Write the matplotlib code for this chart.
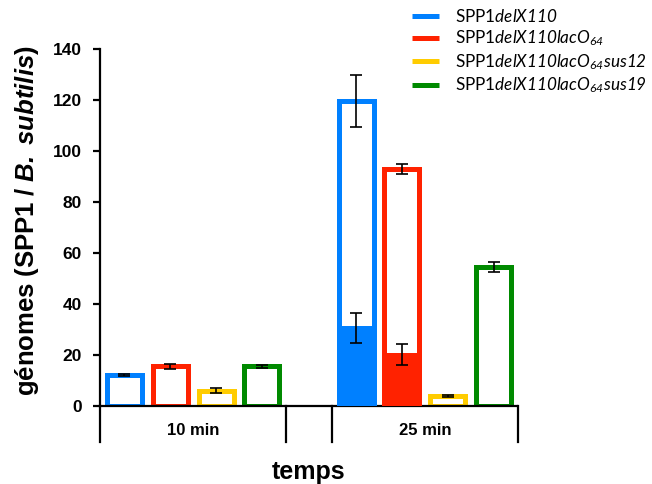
import matplotlib
matplotlib.use("Agg")
import matplotlib.pyplot as plt
from matplotlib.lines import Line2D
import numpy as np

plt.rcParams['mathtext.fontset'] = 'custom'
plt.rcParams['mathtext.rm'] = 'Lato'
plt.rcParams['mathtext.it'] = 'Lato:italic'
plt.rcParams['mathtext.sf'] = 'Lato:italic'
plt.rcParams['mathtext.bf'] = 'Liberation Sans:bold'
plt.rcParams['mathtext.bfit'] = 'Liberation Sans:italic:bold'

# ---- data ----
categories = ["10 min", "25 min"]
series_labels = [r"SPP1$\mathsf{delX110}$",
                 r"SPP1$\mathsf{delX110lacO_{64}}$",
                 r"SPP1$\mathsf{delX110lacO_{64}sus12}$",
                 r"SPP1$\mathsf{delX110lacO_{64}sus19}$"]
colors = ["#0080FF", "#FF2200", "#FFCC00", "#008A00"]
# total values [series][category]
totals = [[12.1, 119.6], [15.6, 92.9], [6.0, 3.9], [15.6, 54.6]]
totals_err = [[0.5, 10.2], [1.0, 2.0], [0.9, 0.5], [0.6, 2.0]]
# filled (lower) portion values
filled = [[0, 30.6], [0, 20.1], [0, 0], [0, 0]]
filled_err = [[0, 5.7], [0, 4.1], [0, 0], [0, 0]]
yticks = [0, 20, 40, 60, 80, 100, 120, 140]

# ---- layout ----
W, H = 652, 484
fig = plt.figure(figsize=(W / 100, H / 100), dpi=100)
ax = fig.add_axes([100 / W, 78 / H, 417 / W, 357 / H])

group_width = 186
group_step = 232
bar_first = 24
bar_step = 46
bar_w = 35
lw = 3.6

for gi, cat in enumerate(categories):
    start = gi * group_step
    for si in range(len(series_labels)):
        x = start + bar_first + si * bar_step
        ax.bar(x, totals[si][gi], width=bar_w, facecolor="white",
               edgecolor=colors[si], linewidth=lw, zorder=2)
        if filled[si][gi] > 0:
            ax.bar(x, filled[si][gi], width=bar_w, facecolor=colors[si],
                   edgecolor=colors[si], linewidth=lw, zorder=3)
            ax.errorbar(x, filled[si][gi], yerr=filled_err[si][gi], fmt="none",
                        ecolor="black", elinewidth=1.2, capsize=4, capthick=1.2, zorder=4)
        ax.errorbar(x, totals[si][gi], yerr=totals_err[si][gi], fmt="none",
                    ecolor="black", elinewidth=1.2, capsize=4, capthick=1.2, zorder=4)
    # category box lines
    for xv in (start, start + group_width):
        ax.plot([xv, xv], [0, -0.1], transform=ax.get_xaxis_transform(),
                color="black", lw=1.6, clip_on=False, zorder=5)
    ax.text(start + group_width / 2, -0.07, cat, transform=ax.get_xaxis_transform(),
            ha="center", va="center", fontsize=12, fontweight="bold",
            family="Liberation Sans")

ax.set_xlim(0, 417)
ax.set_ylim(0, 140)
ax.set_xticks([])
ax.set_yticks(yticks)
ax.set_yticklabels([str(v) for v in yticks], fontsize=12.5, fontweight="bold",
                   family="Liberation Sans")
ax.tick_params(axis="y", length=5, width=1.6, pad=8)
for s in ("top", "right"):
    ax.spines[s].set_visible(False)
for s in ("left", "bottom"):
    ax.spines[s].set_linewidth(1.6)

ax.set_ylabel(r"$\mathbf{génomes\ (SPP1\ /\ }\mathbfit{B.\ subtilis}\mathbf{)}$",
              fontsize=18.5, va="center")
ax.yaxis.set_label_coords(-0.175, 0.52)
ax.text(0.5, -0.185, "temps", transform=ax.transAxes, ha="center", va="center",
        fontsize=18, fontweight="bold", family="Liberation Sans")

handles = [Line2D([], [], color=c, lw=3.6, solid_capstyle="butt") for c in colors]
fig.legend(handles, series_labels, loc="upper left", bbox_to_anchor=(405 / W, 1 - 1 / H),
           frameon=False, prop={"family": "Lato", "size": 12.3}, handlelength=1.6,
           handletextpad=0.95, labelspacing=0.22, borderaxespad=0)

fig.savefig("out.png", dpi=100)
